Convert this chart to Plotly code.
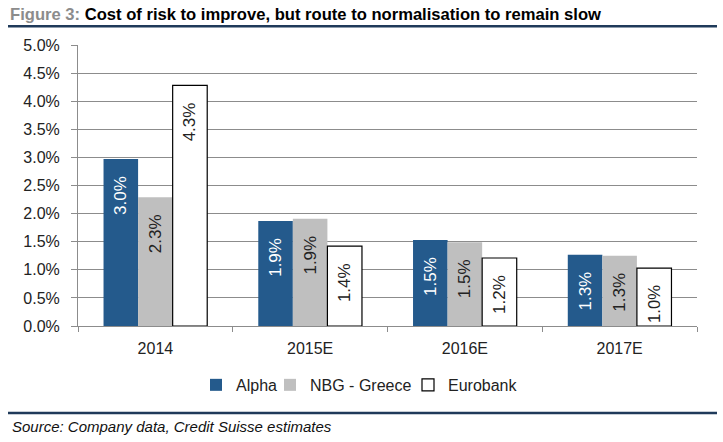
import plotly.graph_objects as go

categories = ["2014", "2015E", "2016E", "2017E"]
alpha = [0.0297, 0.0187, 0.0153, 0.0127]
nbg = [0.0229, 0.0191, 0.0149, 0.0125]
eurobank = [0.0428, 0.0142, 0.0121, 0.0103]
series_names = ["Alpha", "NBG - Greece", "Eurobank"]
y_ticks = [i * 0.005 for i in range(11)]

W, H = 723, 442
L, R, T, B = 78, 697, 44.7, 326.0

def px_x(x):
    return (x - L) / (R - L)

def px_y(y):
    return (B - y) / (B - T)

FONT = "Liberation Sans, Arial, sans-serif"
NB = "\u00a0"
TXT = "#222222"

legend_ids = ["legend", "legend2", "legend3"]
legend_text_x = [236, 310, 448]

fig = go.Figure()
for vals, name, color, line, tcolor, lid in [
    (alpha, series_names[0], "#245A8C", dict(width=0), "white", legend_ids[0]),
    (nbg, series_names[1], "#BFBFBF", dict(width=0), TXT, legend_ids[1]),
    (eurobank, series_names[2], "white", dict(width=1.2, color="black"), TXT, legend_ids[2]),
]:
    fig.add_trace(go.Bar(
        x=categories, y=vals, name=name, legend=lid,
        marker=dict(color=color, line=line),
        texttemplate="%{y:.1%}" + NB * 3, textposition="inside", textangle=-90,
        insidetextanchor="end", textfont=dict(color=tcolor, size=17, family=FONT),
    ))

legends = {}
for lid, tx in zip(legend_ids, legend_text_x):
    legends[lid] = dict(orientation="h", x=px_x(tx - 40), xanchor="left",
                        y=px_y(385), yanchor="middle", borderwidth=0,
                        bgcolor="rgba(0,0,0,0)",
                        font=dict(size=16, family=FONT, color=TXT))

fig.update_layout(
    width=W, height=H,
    margin=dict(l=L, r=W - R, t=T, b=H - B, autoexpand=False),
    paper_bgcolor="white", plot_bgcolor="white",
    barmode="group", bargap=0.33, bargroupgap=0,
    font=dict(family=FONT, color=TXT, size=16),
    showlegend=True,
    xaxis=dict(
        showline=True, linecolor="#8C8C8C", linewidth=1,
        ticks="outside", tickson="boundaries", ticklen=5, tickcolor="#8C8C8C",
        tickfont=dict(size=16), showgrid=False, ticklabelstandoff=8,
    ),
    yaxis=dict(
        range=[0, 0.05], tickvals=y_ticks, tickformat=".1%",
        showline=True, linecolor="#8C8C8C", linewidth=1,
        ticks="outside", ticklen=6, tickcolor="#8C8C8C",
        showgrid=True, gridcolor="#8C8C8C", gridwidth=1,
        tickfont=dict(size=16), zeroline=False, ticklabelstandoff=8,
    ),
    title=dict(
        text="<b><span style='color:#8C8C8C'>Figure 3:</span> Cost of risk to improve, but route to normalisation to remain slow</b>",
        x=10 / W, xanchor="left", xref="container",
        y=1 - 14 / H, yanchor="middle", yref="container",
        font=dict(size=16.6, family=FONT, color="black"),
    ),
    shapes=[
        dict(type="line", xref="paper", yref="paper", x0=px_x(8), x1=px_x(717),
             y0=px_y(26), y1=px_y(26), line=dict(color="#1F3A5A", width=2.5)),
        dict(type="line", xref="paper", yref="paper", x0=px_x(8), x1=px_x(717),
             y0=px_y(413), y1=px_y(413), line=dict(color="#1F3A5A", width=2.5)),
    ],
    annotations=[
        dict(text="<i>Source: Company data, Credit Suisse estimates</i>",
             xref="paper", yref="paper", x=px_x(10), y=px_y(427),
             xanchor="left", yanchor="middle", showarrow=False,
             font=dict(size=15, family=FONT, color="#111111")),
    ],
    **legends,
)

fig.write_html("out.html", config={"displayModeBar": False},
               post_script="document.body.style.margin='0';document.body.style.padding='0';")
